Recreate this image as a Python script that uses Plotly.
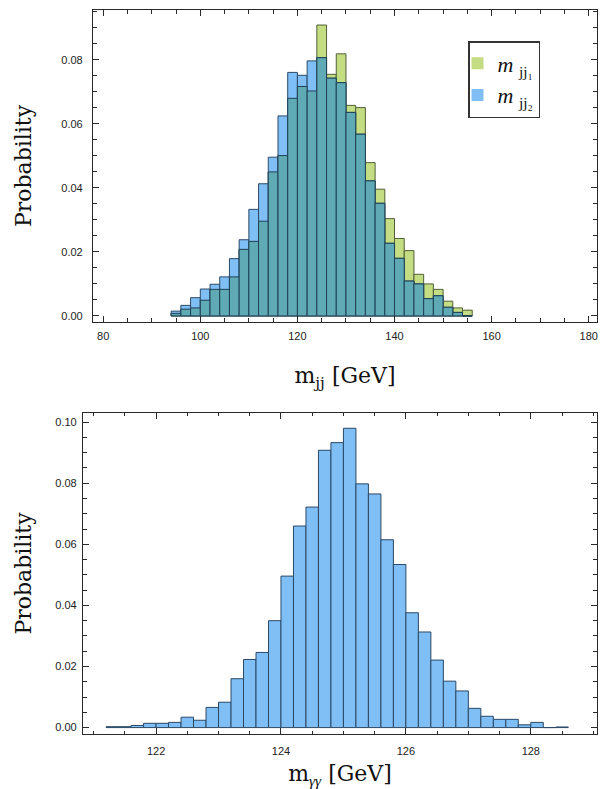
import numpy as np
import plotly.graph_objects as go

# ---------------- data: top panel (m_jj) ----------------
mjj_bin_lo = [94, 96, 98, 100, 102, 104, 106, 108, 110, 112, 114, 116, 118, 120, 122,
              124, 126, 128, 130, 132, 134, 136, 138, 140, 142, 144, 146, 148, 150, 152, 154]
mjj_bin_width = 2
mjj1_prob = [0.0008, 0.0021, 0.0025, 0.0049, 0.0083, 0.0083, 0.0122, 0.0208, 0.0233, 0.0296,
             0.0450, 0.0501, 0.0680, 0.0717, 0.0703, 0.0909, 0.0755, 0.0819, 0.0658, 0.0651,
             0.0479, 0.0396, 0.0304, 0.0242, 0.0204, 0.0130, 0.0100, 0.0083, 0.0046, 0.0025, 0.0018]
mjj2_prob = [0.0015, 0.0033, 0.0057, 0.0084, 0.0099, 0.0122, 0.0179, 0.0238, 0.0333, 0.0413,
             0.0496, 0.0625, 0.0761, 0.0752, 0.0797, 0.0807, 0.0743, 0.0729, 0.0636, 0.0568,
             0.0422, 0.0352, 0.0227, 0.0180, 0.0109, 0.0100, 0.0054, 0.0063, 0.0027, 0.0011, 0.0]

# ---------------- data: bottom panel (m_yy) ----------------
myy_bin_lo = [121.2, 121.4, 121.6, 121.8, 122.0, 122.2, 122.4, 122.6, 122.8, 123.0,
              123.2, 123.4, 123.6, 123.8, 124.0, 124.2, 124.4, 124.6, 124.8, 125.0,
              125.2, 125.4, 125.6, 125.8, 126.0, 126.2, 126.4, 126.6, 126.8, 127.0,
              127.2, 127.4, 127.6, 127.8, 128.0, 128.2, 128.4]
myy_bin_width = 0.2
myy_prob = [0.0003, 0.0003, 0.0007, 0.0014, 0.0014, 0.0017, 0.0034, 0.0024, 0.0066, 0.0083,
            0.0160, 0.0223, 0.0246, 0.0350, 0.0496, 0.0660, 0.0722, 0.0908, 0.0933, 0.0980,
            0.0798, 0.0765, 0.0615, 0.0534, 0.0376, 0.0313, 0.0221, 0.0152, 0.0120, 0.0063,
            0.0037, 0.0027, 0.0027, 0.0009, 0.0017, 0.0, 0.0002]

x_top_ticks = [80, 100, 120, 140, 160, 180]
x_bot_ticks = [122, 124, 126, 128]
y_ticks_top = [0.00, 0.02, 0.04, 0.06, 0.08]
y_ticks_bot = [0.00, 0.02, 0.04, 0.06, 0.08, 0.10]

# ---------------- styling ----------------
W, H = 606, 789
GREEN = "rgb(197,221,130)"
BLUE = "rgb(128,191,245)"
TEAL = "rgb(95,170,180)"
GREEN_EDGE = "rgb(80,95,55)"
BLUE_EDGE = "rgb(42,72,102)"
TEAL_EDGE = "rgb(30,65,85)"
AXC = "#2a2a2a"
SERIF = "DejaVu Serif"
SANS = "Liberation Sans"

mjj_c = np.array(mjj_bin_lo) + mjj_bin_width / 2
myy_c = np.array(myy_bin_lo) + myy_bin_width / 2
overlap = np.minimum(np.array(mjj1_prob), np.array(mjj2_prob))

fig = go.Figure()
fig.add_trace(go.Bar(x=mjj_c, y=mjj1_prob, width=mjj_bin_width, marker=dict(color=GREEN, line=dict(color=GREEN_EDGE, width=1)),
                     name="<i>m</i> <sub>jj₁</sub>", showlegend=False, xaxis="x", yaxis="y"))
fig.add_trace(go.Bar(x=mjj_c, y=mjj2_prob, width=mjj_bin_width, marker=dict(color=BLUE, line=dict(color=BLUE_EDGE, width=1)),
                     name="<i>m</i> <sub>jj₂</sub>", showlegend=False, xaxis="x", yaxis="y"))
fig.add_trace(go.Bar(x=mjj_c, y=overlap, width=mjj_bin_width, marker=dict(color=TEAL, line=dict(color=TEAL_EDGE, width=1)),
                     name="overlap", showlegend=False, xaxis="x", yaxis="y"))
# legend entries
fig.add_trace(go.Bar(x=[None], y=[None], marker=dict(color=GREEN, line=dict(width=0)), name="<i>m</i> <sub>jj₁</sub>",
                     xaxis="x", yaxis="y"))
fig.add_trace(go.Bar(x=[None], y=[None], marker=dict(color=BLUE, line=dict(width=0)), name="<i>m</i> <sub>jj₂</sub>",
                     xaxis="x", yaxis="y"))
fig.add_trace(go.Bar(x=myy_c, y=myy_prob, width=myy_bin_width, marker=dict(color=BLUE, line=dict(color=BLUE_EDGE, width=1)),
                     name="m_yy", showlegend=False, xaxis="x2", yaxis="y2"))

def px_x(p):
    return p / W

def px_y(p):
    return 1 - p / H

common_axis = dict(showline=True, linecolor=AXC, linewidth=1.2, mirror="ticks", ticks="inside",
                   ticklen=6, tickwidth=1, tickcolor=AXC, showgrid=False, zeroline=False, automargin=False,
                   tickfont=dict(family=SANS, size=11, color="#222"))
title_font = dict(family=SERIF, size=22, color="#111")

fig.update_layout(
    width=W, height=H, margin=dict(l=0, r=0, t=0, b=0, autoexpand=False),
    paper_bgcolor="white", plot_bgcolor="white", barmode="overlay",
    xaxis=dict(domain=[px_x(93), px_x(597)], range=[77.9, 181.7], tickvals=x_top_ticks,
               minor=dict(dtick=5, tick0=80, ticks="inside", ticklen=3.5, tickcolor=AXC),
               ticklabelstandoff=4, anchor="y",
               title=dict(text="m<sub>jj</sub> [GeV]", font=title_font, standoff=26),
               **common_axis),
    yaxis=dict(domain=[px_y(322), px_y(10)], range=[-0.0019, 0.0956], tickvals=y_ticks_top, tickformat=".2f",
               minor=dict(dtick=0.005, tick0=0, ticks="inside", ticklen=3.5, tickcolor=AXC),
               ticklabelstandoff=7, anchor="x",
               title=dict(text="Probability", font=title_font, standoff=23),
               **common_axis),
    xaxis2=dict(domain=[px_x(83), px_x(597)], range=[120.83, 129.06], tickvals=x_bot_ticks,
                minor=dict(dtick=0.5, tick0=122, ticks="inside", ticklen=3.5, tickcolor=AXC),
                ticklabelstandoff=6, anchor="y2",
                title=dict(text="m<sub><span style=\"font-family:Liberation Serif\"><i>γγ</i></span></sub> [GeV]",
                           font=title_font, standoff=12),
                **common_axis),
    yaxis2=dict(domain=[px_y(734.3), px_y(412.7)], range=[-0.0022, 0.1031], tickvals=y_ticks_bot, tickformat=".2f",
                minor=dict(dtick=0.005, tick0=0, ticks="inside", ticklen=3.5, tickcolor=AXC),
                ticklabelstandoff=3, anchor="x2",
                title=dict(text="Probability", font=title_font, standoff=17),
                **common_axis),
    legend=dict(x=px_x(468), y=px_y(41), xanchor="left", yanchor="top", bgcolor="white",
                bordercolor="#333", borderwidth=1.5, indentation=-12, entrywidth=90, entrywidthmode="pixels",
                font=dict(family="Liberation Serif", size=22, color="#111")),
)

fig.write_html("out.html", config={"displayModeBar": False},
               post_script="document.body.style.margin='0px';document.body.style.overflow='hidden';")
